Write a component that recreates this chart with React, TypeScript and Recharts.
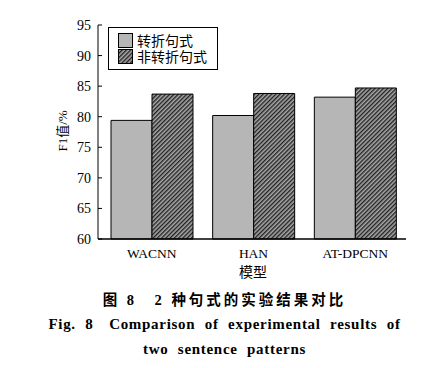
import { BarChart, Bar, XAxis, YAxis, Label } from "recharts";

const models = ["WACNN", "HAN", "AT-DPCNN"];
const turning = [79.4, 80.2, 83.2];
const nonTurning = [83.7, 83.8, 84.7];
const yTicks = [60, 65, 70, 75, 80, 85, 90, 95];

const seriesNames = { turning: "转折句式", nonTurning: "非转折句式" };

const data = models.map((m, i) => ({
  model: m,
  turning: turning[i],
  nonTurning: nonTurning[i],
}));

const SERIF = '"Liberation Serif", "Times New Roman", serif';
const CJK = '"Noto Sans CJK SC", sans-serif';
const GRAY = "#b6b6b6";

function YTick({ x, y, payload }: any) {
  return (
    <g>
      <line x1={x + 7} x2={x + 11} y1={y} y2={y} stroke="#000" strokeWidth={1} />
      <text x={x} y={y} dy={5} textAnchor="end" style={{ fontSize: 14, fontFamily: SERIF }} fill="#000">
        {payload.value}
      </text>
    </g>
  );
}

function XTick({ x, y, payload }: any) {
  return (
    <text x={x} y={y} dy={11} textAnchor="middle" style={{ fontSize: 13.5, fontFamily: SERIF }} fill="#000">
      {payload.value}
    </text>
  );
}

function YLabel() {
  return (
    <text
      x={62}
      y={131}
      transform="rotate(-90, 62, 131)"
      textAnchor="middle"
      dominantBaseline="central"
      style={{ fontSize: 13, fontFamily: `${SERIF}, ${CJK}` }}
      fill="#000"
    >
      F1值/%
    </text>
  );
}

function XLabel() {
  return (
    <text x={253} y={277} textAnchor="middle" style={{ fontSize: 14, fontFamily: CJK }} fill="#000">
      模型
    </text>
  );
}

function Swatch({ hatch }: { hatch: boolean }) {
  return (
    <svg width={15} height={15} style={{ display: "block" }}>
      <rect x={0.5} y={0.5} width={14} height={14} fill={hatch ? "url(#hatch)" : GRAY} stroke="#000" />
    </svg>
  );
}

// legend drawn as an overlay so it doesn't push the plot area down
function LegendBox() {
  return (
    <div
      style={{
        position: "absolute",
        left: 108,
        top: 27,
        display: "flex",
        gap: 4,
        border: "1px solid #000",
        background: "#fff",
        padding: "5px 10px 5px 9px",
        whiteSpace: "nowrap",
      }}
    >
      <div style={{ display: "flex", flexDirection: "column", gap: 1 }}>
        <Swatch hatch={false} />
        <Swatch hatch={true} />
      </div>
      <div style={{ fontFamily: CJK, fontSize: 14, lineHeight: "16px", marginTop: -1 }}>
        {seriesNames.turning}
        <br />
        {seriesNames.nonTurning}
      </div>
    </div>
  );
}

export default function App() {
  return (
    <div style={{ position: "absolute", left: 0, top: 0, width: 433, height: 368, background: "#fff" }}>
      <svg width={0} height={0} style={{ position: "absolute" }}>
        <defs>
          <pattern id="hatch" width={3} height={3} patternUnits="userSpaceOnUse" patternTransform="rotate(45)">
            <rect width={3} height={3} fill="#a8a8a8" />
            <line x1={0.7} y1={0} x2={0.7} y2={3} stroke="#1a1a1a" strokeWidth={1.3} />
          </pattern>
        </defs>
      </svg>
      <BarChart
        width={433}
        height={280}
        data={data}
        margin={{ top: 25, right: 27, left: 0, bottom: 17 }}
        barCategoryGap={10}
        barGap={0}
      >
        <XAxis
          dataKey="model"
          height={24}
          padding={{ left: 3, right: 0 }}
          tickLine={false}
          axisLine={{ stroke: "#000", strokeWidth: 1.5 }}
          tick={<XTick />}
        >
          <Label content={<XLabel />} />
        </XAxis>
        <YAxis
          width={98}
          domain={[60, 95]}
          ticks={yTicks}
          interval={0}
          tickSize={4}
          tickMargin={3}
          tickLine={false}
          axisLine={{ stroke: "#000", strokeWidth: 1 }}
          tick={<YTick />}
        >
          <Label content={<YLabel />} />
        </YAxis>
        <Bar dataKey="turning" name={seriesNames.turning} fill={GRAY} stroke="#000" strokeWidth={1} isAnimationActive={false} />
        <Bar dataKey="nonTurning" name={seriesNames.nonTurning} fill="url(#hatch)" stroke="#000" strokeWidth={1} isAnimationActive={false} />
      </BarChart>
      <LegendBox />
      <div style={{ position: "absolute", left: 8, top: 290, width: 433, textAlign: "center", color: "#000" }}>
        <div style={{ fontFamily: `${SERIF}, ${CJK}`, fontWeight: "bold", fontSize: 14.5, letterSpacing: 3, lineHeight: "20px" }}>
          图 8{"\u3000"}2 种句式的实验结果对比
        </div>
        <div style={{ fontFamily: SERIF, fontWeight: "bold", fontSize: 15, lineHeight: "25px", marginTop: 2, wordSpacing: 5, letterSpacing: 0.7 }}>
          Fig. 8{"\u2003"}Comparison of experimental results of
        </div>
        <div style={{ fontFamily: SERIF, fontWeight: "bold", fontSize: 15, lineHeight: "25px", wordSpacing: 5, letterSpacing: 0.7 }}>
          two sentence patterns
        </div>
      </div>
    </div>
  );
}
